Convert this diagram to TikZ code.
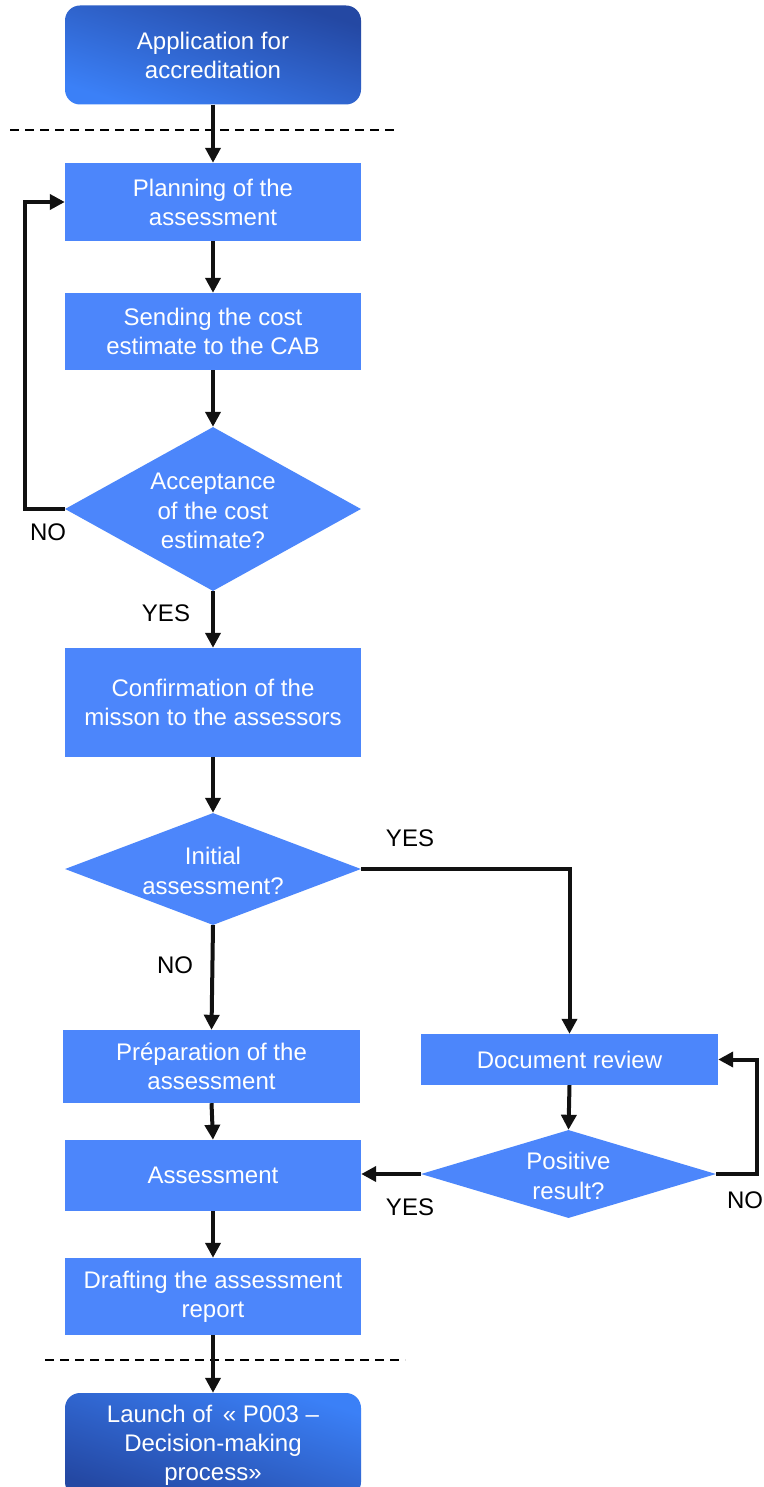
\documentclass[tikz,border=0pt]{standalone}
\usepackage{fontspec}
\setmainfont{Liberation Sans}
\usetikzlibrary{arrows.meta,shapes.geometric,calc}
\definecolor{boxblue}{RGB}{76,134,251}
\definecolor{gradlight}{RGB}{59,128,247}
\definecolor{graddark}{RGB}{36,72,163}
\definecolor{linegray}{RGB}{17,17,17}
\tikzset{
  boxstyle/.style={rectangle, fill=boxblue, text=white, inner sep=0pt, minimum width=296pt, align=center, font=\fontsize{24}{29}\selectfont},
  decision/.style={diamond, fill=boxblue, inner sep=0pt, minimum width=296pt},
  dtext/.style={text=white, align=center, font=\fontsize{24}{29.5}\selectfont},
  lbl/.style={text=black, font=\fontsize{24}{28}\selectfont},
  conn/.style={line width=4pt, draw=linegray, -{Triangle[width=15pt,length=15pt]}},
  sep/.style={line width=1.3pt, draw=black, dash pattern=on 9pt off 6pt},
}
\begin{document}
\begin{tikzpicture}[x=1pt,y=-1pt]
\useasboundingbox (0,0) rectangle (763,1487);
\fill[white] (0,0) rectangle (763,1487);
% terminal boxes
\node[boxstyle, minimum height=99pt, rounded corners=15pt, fill=none, shading=axis, top color=graddark, bottom color=gradlight, shading angle=-18] (app) at (213,55) {Application for\\accreditation};
\node[boxstyle, minimum height=104pt, rounded corners=15pt, fill=none, shading=axis, top color=gradlight, bottom color=graddark, shading angle=-18] (launch) at (213,1445) {Launch of \,« P003 –\\Decision-making\\process»};
% process boxes
\node[boxstyle, minimum height=78pt] (plan) at (213,202) {Planning of the\\assessment};
\node[boxstyle, minimum height=77pt] (send) at (213,331.5) {Sending the cost\\estimate to the CAB};
\node[boxstyle, minimum height=109pt] (conf) at (213,702.5) {Confirmation of the\\misson to the assessors};
\node[boxstyle, minimum height=73pt, minimum width=297pt] (prep) at (211.5,1066.5) {Préparation of the\\assessment};
\node[boxstyle, minimum height=71pt] (assess) at (213,1175.5) {Assessment};
\node[boxstyle, minimum height=51pt, minimum width=297pt] (doc) at (569.5,1059.5) {Document review};
\node[boxstyle, minimum height=77pt] (draft) at (213,1296.5) {Drafting the assessment\\report};
% decisions
\node[decision, minimum height=164pt] (acc) at (213,509) {};
\node[dtext] (acctext) at (213,511) {Acceptance\\of the cost\\estimate?};
\node[decision, minimum height=112pt] (init) at (213,869) {};
\node[dtext] (inittext) at (213,871) {Initial\\assessment?};
\node[decision, minimum height=88pt, minimum width=295pt] (pos) at (568.5,1174) {};
\node[dtext] (postext) at (568.5,1176) {Positive\\result?};
% separators
\coordinate (s1a) at (10,130); \coordinate (s1b) at (395,130);
\coordinate (s2a) at (45,1360); \coordinate (s2b) at (405,1360);
\draw[sep] (s1a) -- (s1b);
\draw[sep] (s2a) -- (s2b);
% connectors
\draw[conn] (app.south) -- (plan.north);
\draw[conn] (plan.south) -- (send.north);
\draw[conn] (send.south) -- (acc.north);
\draw[conn] (acc.south) -- (conf.north);
\draw[conn] (conf.south) -- (init.north);
\draw[conn] (init.south) -- (prep.north);
\draw[conn] (prep.south) -- (assess.north);
\draw[conn] (assess.south) -- (draft.north);
\draw[conn] (draft.south) -- (launch.north);
\coordinate (accno) at (25,509);
\draw[conn] (acc.west) -- (accno) |- (plan.west);
\draw[conn] (init.east) -| (doc.north);
\draw[conn] (doc.south) -- (pos.north);
\coordinate (posno) at (757,1174);
\draw[conn] (pos.east) -- (posno) |- (doc.east);
\draw[conn] (pos.west) -- (pos.west -| assess.east);
% labels
\node[lbl] (l1) at (48,532) {NO};
\node[lbl] (l2) at (166,613) {YES};
\node[lbl] (l3) at (410,838) {YES};
\node[lbl] (l4) at (175,965) {NO};
\node[lbl] (l5) at (410,1207) {YES};
\node[lbl] (l6) at (745,1200) {NO};
\end{tikzpicture}
\end{document}
